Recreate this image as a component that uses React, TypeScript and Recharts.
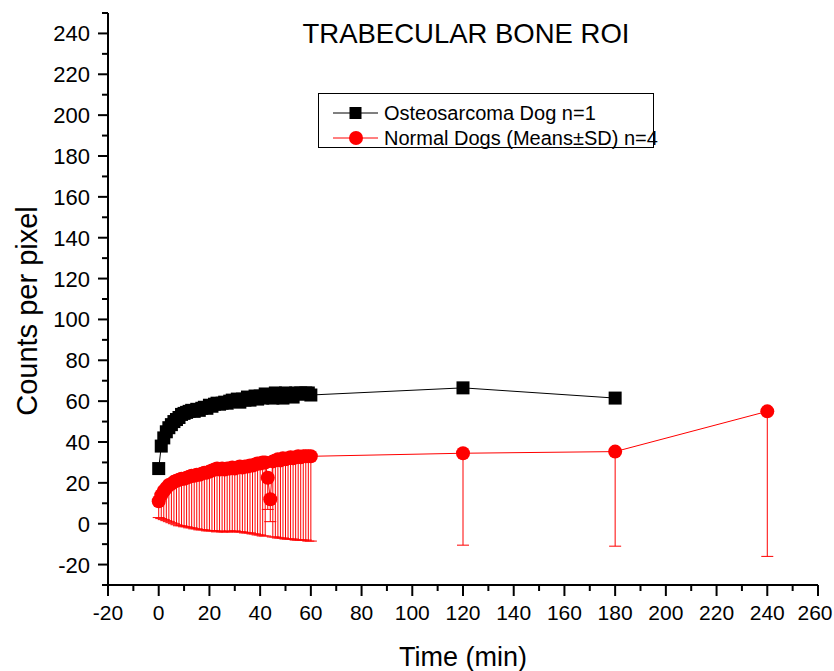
import React from "react";
import { ScatterChart, Scatter, XAxis, YAxis, ErrorBar } from "recharts";

const FONT = "'Liberation Sans', Arial, Helvetica, sans-serif";

// Osteosarcoma dog (n=1), counts per pixel over time
const osteoTimes = [
  0, 1, 2, 3, 4, 5, 6, 7, 8, 9, 10, 11, 12, 13, 14, 15, 16, 17, 18, 19, 20,
  21, 22, 23, 24, 25, 26, 27, 28, 29, 30, 31, 32, 33, 34, 35, 36, 37, 38, 39, 40,
  41, 42, 43, 44, 45, 46, 47, 48, 49, 50, 51, 52, 53, 54, 55, 56, 57, 58, 59, 60,
  120, 180,
];
const osteoCounts = [
  27, 38, 42, 45, 47, 48.5, 50, 51, 52, 53.5, 54, 54.5, 55, 55.5, 55, 56, 55.5, 56.5, 57, 56.5, 58,
  57.5, 58.5, 59, 58.5, 59, 59.5, 59, 60, 60.5, 60, 61, 59.5, 61, 60.5, 62, 60.5, 61.5, 62.5, 61, 62.5,
  61.5, 63.5, 62, 63, 61.5, 64, 62.5, 63.5, 61.5, 64, 62.5, 63.5, 62, 64, 63.5, 64, 63.5, 64, 64, 63,
  66.5, 61.5,
];

// Normal dogs (n=4): means and the lower end of each SD bar
const normalTimes = [
  0, 1, 2, 3, 4, 5, 6, 7, 8, 9, 10, 11, 12, 13, 14, 15, 16, 17, 18, 19, 20,
  21, 22, 23, 24, 25, 26, 27, 28, 29, 30, 31, 32, 33, 34, 35, 36, 37, 38, 39, 40,
  41, 42, 43, 44, 45, 46, 47, 48, 49, 50, 51, 52, 53, 54, 55, 56, 57, 58, 59, 60,
  120, 180, 240,
];
const normalMeans = [
  11, 14, 16, 17.5, 19, 19.5, 20.5, 21, 21.5, 22, 22, 22.5, 23, 23.5, 23.5, 24, 24, 24.5, 25, 25, 25.5,
  26, 26.5, 27, 26.5, 27, 26.5, 27, 27, 27.5, 27, 27.5, 28, 27.5, 28, 28, 28.5, 28.5, 29, 29.5, 29.5,
  30, 30, 22.5, 12, 30.5, 31, 31.5, 31, 32, 31.5, 32, 32.5, 32, 32.5, 33, 32.5, 33, 33, 33, 33,
  34.5, 35.3, 55,
];
const normalLower = [
  3, 2.5, 2, 1.5, 1, 0.5, 0, -0.5, -1, -1, -1.5, -1.5, -2, -2, -2.5, -2.5, -3, -3, -3, -3.5, -3.5,
  -3.5, -3.5, -4, -3.5, -4, -4, -4, -3.5, -4, -3.5, -4, -4, -4, -4.5, -4.5, -4.5, -5, -5, -5.5, -5.5,
  -6, -6, 7, 1, -6.5, -6.5, -7, -7, -7, -7.5, -7.5, -7.5, -7.5, -8, -8, -8, -8, -8, -8.5, -8.5,
  -10.5, -11, -16,
];

const xTicks = [-20, -10, 0, 10, 20, 30, 40, 50, 60, 70, 80, 90, 100, 110, 120, 130, 140, 150, 160, 170, 180, 190, 200, 210, 220, 230, 240, 250, 260];
const yTicks = [-30, -20, -10, 0, 10, 20, 30, 40, 50, 60, 70, 80, 90, 100, 110, 120, 130, 140, 150, 160, 170, 180, 190, 200, 210, 220, 230, 240, 250];

const osteoData = osteoTimes.map((t, i) => ({ t, v: osteoCounts[i] }));
const normalData = normalTimes.map((t, i) => ({
  t,
  v: normalMeans[i],
  err: [normalMeans[i] - normalLower[i], 0],
}));

const XTick = (props: any) => {
  const { x, y, payload } = props;
  const major = payload.value % 20 === 0;
  // keep the last label inside the picture
  const tx = Math.min(x, 815);
  return (
    <g>
      <line x1={x} x2={x} y1={y} y2={y + (major ? 11 : 6)} stroke="#000" strokeWidth={2} />
      {major && (
        <text x={tx} y={y + 35} textAnchor="middle" fontSize={21} fontFamily={FONT} fill="#000">
          {payload.value}
        </text>
      )}
    </g>
  );
};

const YTick = (props: any) => {
  const { x, y, payload } = props;
  const major = payload.value % 20 === 0;
  return (
    <g>
      <line x1={x} x2={x - (major ? 10 : 6)} y1={y} y2={y} stroke="#000" strokeWidth={2} />
      {major && (
        <text x={x - 18} y={y + 8} textAnchor="end" fontSize={22} fontFamily={FONT} fill="#000">
          {payload.value}
        </text>
      )}
    </g>
  );
};

const Square = (props: any) => {
  const { cx, cy } = props;
  return <rect x={cx - 6.5} y={cy - 6.5} width={13} height={13} fill="#000" />;
};

const Dot = (props: any) => {
  const { cx, cy } = props;
  return <circle cx={cx} cy={cy} r={7} fill="#ff0000" />;
};

export default function App() {
  return (
    <div style={{ position: "absolute", left: 0, top: 0, width: 834, height: 671, background: "#fff", fontFamily: FONT }}>
      <ScatterChart width={834} height={671} margin={{ top: 13, right: 16, bottom: 0, left: 0 }}>
        <XAxis
          type="number"
          dataKey="t"
          domain={[-20, 260]}
          ticks={xTicks}
          interval={0}
          allowDataOverflow
          height={86}
          tickSize={0}
          tickMargin={0}
          tick={<XTick />}
          axisLine={{ stroke: "#000", strokeWidth: 2 }}
        />
        <YAxis
          type="number"
          dataKey="v"
          domain={[-30, 250]}
          ticks={yTicks}
          interval={0}
          allowDataOverflow
          width={108}
          tickSize={0}
          tickMargin={0}
          tick={<YTick />}
          axisLine={{ stroke: "#000", strokeWidth: 2 }}
        />
        <Scatter
          name="Osteosarcoma Dog n=1"
          data={osteoData}
          fill="#000"
          line={{ stroke: "#000", strokeWidth: 1 }}
          lineType="joint"
          shape={Square}
          isAnimationActive={false}
        />
        <Scatter
          name="Normal Dogs (Means±SD) n=4"
          data={normalData}
          fill="#ff0000"
          line={{ stroke: "#ff0000", strokeWidth: 1 }}
          lineType="joint"
          shape={Dot}
          isAnimationActive={false}
        >
          <ErrorBar dataKey="err" direction="y" width={6} stroke="#ff0000" strokeWidth={1} isAnimationActive={false} />
        </Scatter>
      </ScatterChart>

      <div style={{ position: "absolute", left: 466, top: 19, transform: "translateX(-50%)", fontSize: 27.5, lineHeight: "30px", whiteSpace: "nowrap", color: "#000" }}>
        TRABECULAR BONE ROI
      </div>

      <div style={{ position: "absolute", left: 463, top: 642, transform: "translateX(-50%)", fontSize: 27, lineHeight: "30px", whiteSpace: "nowrap", color: "#000" }}>
        Time (min)
      </div>

      <div style={{ position: "absolute", left: 27, top: 311, transform: "translate(-50%, -50%) rotate(-90deg)", fontSize: 29, lineHeight: "30px", whiteSpace: "nowrap", color: "#000" }}>
        Counts per pixel
      </div>

      <div style={{ position: "absolute", left: 318, top: 93, width: 334, height: 53, border: "1px solid #000", background: "#fff", fontSize: 20, color: "#000" }}>
        <svg width={70} height={53} style={{ position: "absolute", left: 0, top: 0 }}>
          <line x1={14} x2={59} y1={19} y2={19} stroke="#000" strokeWidth={1} />
          <rect x={30.5} y={13} width={12} height={12} fill="#000" />
          <line x1={14} x2={59} y1={44} y2={44} stroke="#ff0000" strokeWidth={1} />
          <circle cx={37} cy={44} r={7} fill="#ff0000" />
        </svg>
        <div style={{ position: "absolute", left: 65, top: 7, lineHeight: "24px", whiteSpace: "nowrap" }}>Osteosarcoma Dog n=1</div>
        <div style={{ position: "absolute", left: 65, top: 32, lineHeight: "24px", whiteSpace: "nowrap" }}>Normal Dogs (Means±SD) n=4</div>
      </div>
    </div>
  );
}
